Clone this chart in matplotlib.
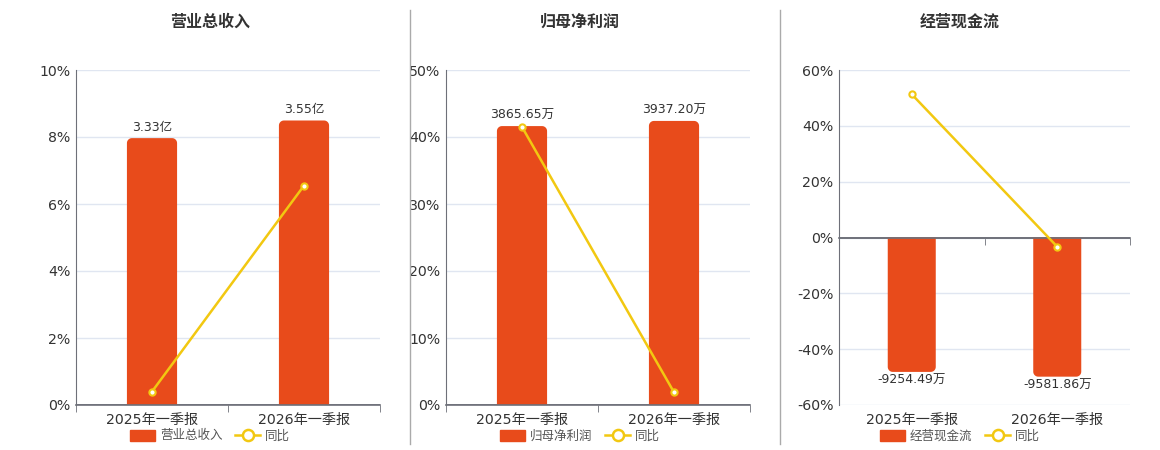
import numpy as np
import matplotlib.pyplot as plt
from matplotlib.lines import Line2D
from matplotlib.patches import Patch, Polygon

plt.rcParams['font.family'] = ['DejaVu Sans', 'Noto Sans CJK SC']

# data
periods = ['2025年一季报', '2026年一季报']

titles = ['营业总收入', '归母净利润', '经营现金流']
bar_names = ['营业总收入', '归母净利润', '经营现金流']
bar_values = [[3.33, 3.55], [3865.65, 3937.20], [-9254.49, -9581.86]]
bar_labels = [['3.33亿', '3.55亿'], ['3865.65万', '3937.20万'], ['-9254.49万', '-9581.86万']]
yoy_values = [[0.4, 6.55], [41.5, 1.9], [51.3, -3.3]]

pct_limits = [(0, 10), (0, 50), (-60, 60)]
pct_ticks = [np.arange(0, 11, 2), np.arange(0, 51, 10), np.arange(-60, 61, 20)]
bar_limits = [(0, 4.18), (0, 4643), (-11533, 11533)]

bar_color = '#E84B1B'
line_color = '#F2C811'
text_color = '#333333'
axis_color = '#6E7079'
grid_color = '#E0E6F1'

W, H = 1160, 450
fig = plt.figure(figsize=(W / 100, H / 100), dpi=100)

# axes boxes in pixels: left, right, top, bottom
boxes = [(76, 380, 70, 405), (446, 750, 70, 405), (839, 1130, 70, 405)]
title_x = [210, 580, 960]
legend_x = [210, 580, 960]
radius_px = 5


def rounded_outline(bx, by, bw, bh, rx, ry):
    # square at the base, rounded corners at the far end of the bar
    sign = 1 if bh >= 0 else -1
    end = by + bh
    a = np.linspace(0, np.pi / 2, 10)
    right = np.column_stack([bx + bw - rx + rx * np.sin(a),
                             end - sign * ry + sign * ry * np.cos(a)])[::-1]
    left = np.column_stack([bx + rx - rx * np.sin(a),
                            end - sign * ry + sign * ry * np.cos(a)])
    pts = [(bx, by), (bx + bw, by)]
    pts += [tuple(p) for p in right]
    pts += [tuple(p) for p in left]
    return pts


for k in range(3):
    l, r, t, b = boxes[k]
    rect = [l / W, 1 - b / H, (r - l) / W, (b - t) / H]
    x = np.arange(len(periods))

    # base axis: percentage scale, grid, ticks
    ax = fig.add_axes(rect)
    ax.set_xlim(-0.5, len(periods) - 0.5)
    ax.set_ylim(*pct_limits[k])
    ax.set_yticks(pct_ticks[k])
    ax.set_yticklabels([f'{v}%' for v in pct_ticks[k]])
    ax.yaxis.grid(True, color=grid_color, linewidth=1)
    ax.tick_params(axis='y', length=0, labelsize=10.2, colors=text_color, pad=4)
    ax.set_xticks(x)
    ax.set_xticklabels([])
    ax.set_xticks([-0.5, 0.5, 1.5], minor=True)
    ax.tick_params(axis='x', which='major', length=0)
    ax.tick_params(axis='x', which='minor', length=5, color=axis_color)
    for s in ['top', 'right']:
        ax.spines[s].set_visible(False)
    ax.spines['left'].set_color(axis_color)
    ax.spines['bottom'].set_color(axis_color)
    ax.spines['bottom'].set_linewidth(1.2)
    if pct_limits[k][0] < 0:
        ax.spines['bottom'].set_position(('data', 0))
    for xi, p in zip(x, periods):
        ax.annotate(p, xy=(xi, 0), xycoords=('data', 'axes fraction'),
                    xytext=(0, -6), textcoords='offset points',
                    ha='center', va='top', fontsize=10.2, color=text_color)

    # bars on hidden value axis
    ax2 = fig.add_axes(rect, sharex=ax)
    ax2.patch.set_visible(False)
    bars = ax2.bar(x, bar_values[k], width=0.33, color=bar_color)
    ax2.set_ylim(*bar_limits[k])
    ax2.axis('off')
    span = bar_limits[k][1] - bar_limits[k][0]

    # swap each bar for an outline with rounded far-end corners
    rx = radius_px * len(periods) / (r - l)
    ry = radius_px * span / (b - t)
    for bar in bars:
        bar.set_visible(False)
        ax2.add_patch(Polygon(rounded_outline(bar.get_x(), bar.get_y(),
                                              bar.get_width(), bar.get_height(), rx, ry),
                              closed=True, facecolor=bar_color, edgecolor='none'))

    for xi, v, lab in zip(x, bar_values[k], bar_labels[k]):
        if v >= 0:
            ax2.text(xi, v + span * 0.012, lab, ha='center', va='bottom',
                     fontsize=9, color=text_color)
        else:
            ax2.text(xi, v - span * 0.006, lab, ha='center', va='top',
                     fontsize=9, color=text_color)

    # redraw the zero line above the bars
    ax2.axhline(0, color=axis_color, linewidth=1.2, zorder=3)

    # yoy line on top, same percentage scale
    ax3 = fig.add_axes(rect, sharex=ax, sharey=ax)
    ax3.patch.set_visible(False)
    ax3.plot(x, yoy_values[k], color=line_color, linewidth=1.8, marker='o',
             markersize=4.5, markerfacecolor='white', markeredgecolor=line_color,
             markeredgewidth=1.5, clip_on=False)
    ax3.axis('off')

    fig.text(title_x[k] / W, 1 - 22 / H, titles[k], ha='center', va='center',
             fontsize=11.5, fontweight='bold', color=text_color)

    handles = [Patch(facecolor=bar_color, edgecolor=bar_color, label=bar_names[k]),
               Line2D([0], [0], color=line_color, linewidth=1.8, marker='o',
                      markersize=8, markerfacecolor='white',
                      markeredgecolor=line_color, markeredgewidth=1.8, label='同比')]
    fig.legend(handles=handles, loc='center', bbox_to_anchor=(legend_x[k] / W, 1 - 436 / H),
               ncol=2, frameon=False, fontsize=9, handlelength=2.0, handleheight=1.0,
               columnspacing=1.0, handletextpad=0.4, labelcolor='#555555')

# panel separators
for sx in [410, 780]:
    fig.add_artist(Line2D([sx / W, sx / W], [1 - 10 / H, 1 - 444 / H],
                          color='#AAAAAA', linewidth=1))

fig.savefig('out.png', dpi=100, facecolor='white')
